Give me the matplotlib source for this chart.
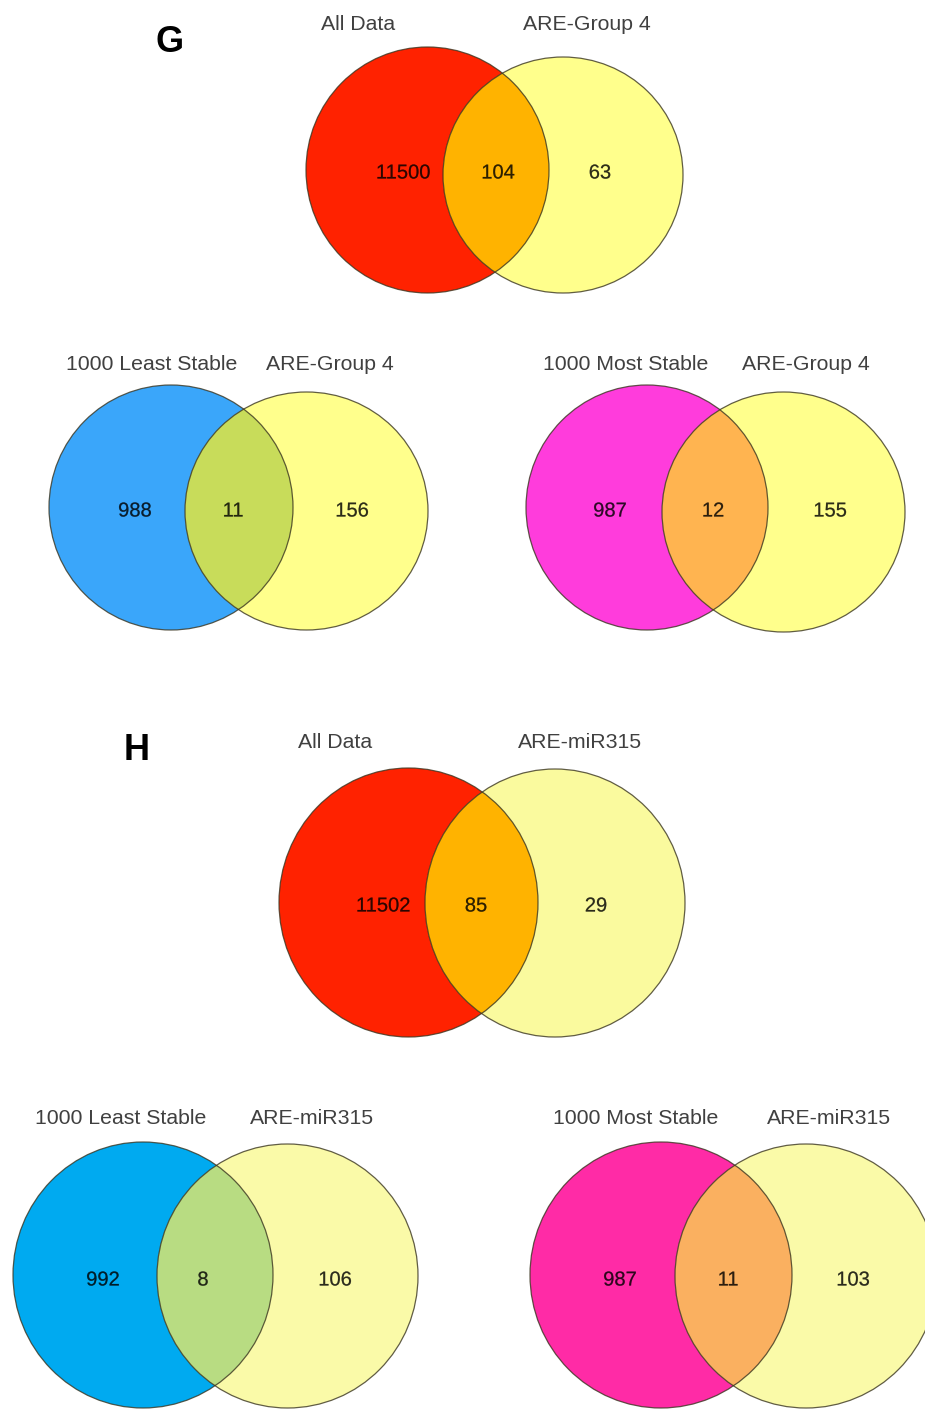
import matplotlib
matplotlib.use("Agg")
import matplotlib.pyplot as plt
import matplotlib.patheffects as pe
from matplotlib.patches import Ellipse

# ---- data -------------------------------------------------------------
left_sets = ["All Data", "1000 Least Stable", "1000 Most Stable",
             "All Data", "1000 Least Stable", "1000 Most Stable"]
right_sets = ["ARE-Group 4", "ARE-Group 4", "ARE-Group 4",
              "ARE-miR315", "ARE-miR315", "ARE-miR315"]
left_only = [11500, 988, 987, 11502, 992, 987]
overlap = [104, 11, 12, 85, 8, 11]
right_only = [63, 156, 155, 29, 106, 103]
panel_letters = ["G", "H"]

# ---- layout (pixel coordinates of the canvas) -------------------------
# (cx, cy, rx, ry) for the left and right circle of each diagram
left_geom = [(427.5, 170, 121.5, 123), (171, 507.5, 122, 122.5),
             (647, 507.5, 121, 122.5), (408.5, 902.5, 129.5, 134.5),
             (143, 1275, 130, 133), (661, 1275, 131, 133)]
right_geom = [(563, 175, 120, 118), (306.5, 511, 121.5, 119),
              (783.5, 512, 121.5, 120), (555, 903, 130, 134),
              (287.5, 1276, 130.5, 132), (806, 1276, 131, 132)]
# x positions of the three counts, y position of the counts
count_x = [(403, 498, 600), (135, 233, 352), (610, 713, 830),
           (383, 476, 596), (103, 203, 335), (620, 728, 853)]
count_y = [173, 511, 511, 906, 1280, 1280]
# set-name label positions (left x, right x, y)
name_pos = [(358, 587, 25), (152, 330, 364), (626, 806, 364),
            (335, 580, 743), (121, 312, 1118), (636, 829, 1118)]
letter_pos = [(170, 42), (137, 750)]

left_colors = ["#FF2200", "#3AA6FA", "#FF3CDC", "#FF2200", "#00AAF0", "#FF2BA6"]
right_colors = ["#FFFF8C", "#FFFF8C", "#FFFF8C", "#FAFA9E", "#FAFAA8", "#FAFAA8"]
lens_colors = ["#FFB300", "#C8DC5A", "#FFB450", "#FFB300", "#B8DC82", "#FAB060"]

W, H = 925, 1410
fig = plt.figure(figsize=(W / 100, H / 100), dpi=100)
ax = fig.add_axes([0, 0, 1, 1])
ax.set_xlim(0, W)
ax.set_ylim(H, 0)
ax.axis("off")

font = ["Liberation Sans", "DejaVu Sans"]
heavy = [pe.withStroke(linewidth=0.3, foreground="black", alpha=0.35)]

for i in range(len(left_only)):
    lcx, lcy, lrx, lry = left_geom[i]
    rcx, rcy, rrx, rry = right_geom[i]
    left = Ellipse((lcx, lcy), 2 * lrx, 2 * lry, facecolor=left_colors[i],
                   edgecolor="none", zorder=1)
    right = Ellipse((rcx, rcy), 2 * rrx, 2 * rry, facecolor=right_colors[i],
                    edgecolor="none", zorder=2)
    ax.add_patch(left)
    ax.add_patch(right)
    # overlap region: right circle clipped to the left circle
    lens = Ellipse((rcx, rcy), 2 * rrx, 2 * rry, facecolor=lens_colors[i],
                   edgecolor="none", zorder=3)
    ax.add_patch(lens)
    clip = Ellipse((lcx, lcy), 2 * lrx, 2 * lry, transform=ax.transData)
    lens.set_clip_path(clip)
    for (cx, cy, rx, ry) in (left_geom[i], right_geom[i]):
        ax.add_patch(Ellipse((cx, cy), 2 * rx, 2 * ry, facecolor="none",
                             edgecolor="#3a3520", linewidth=0.9, alpha=0.8,
                             zorder=4))

    for x, val in zip(count_x[i], (left_only[i], overlap[i], right_only[i])):
        ax.text(x, count_y[i], f"{val}", ha="center", va="center",
                fontsize=14.5, family=font, color="black", alpha=0.72,
                path_effects=heavy, zorder=5)

    lx, rx_, ny = name_pos[i]
    ax.text(lx, ny, left_sets[i], ha="center", va="center", fontsize=15.3,
            family=font, color="#404040", zorder=5)
    ax.text(rx_, ny, right_sets[i], ha="center", va="center", fontsize=15.3,
            family=font, color="#404040", zorder=5)

for letter, (x, y) in zip(panel_letters, letter_pos):
    ax.text(x, y, letter, ha="center", va="center", fontsize=26,
            fontweight="bold", family=font, color="black")

fig.savefig("out.png", dpi=100, facecolor="white")
